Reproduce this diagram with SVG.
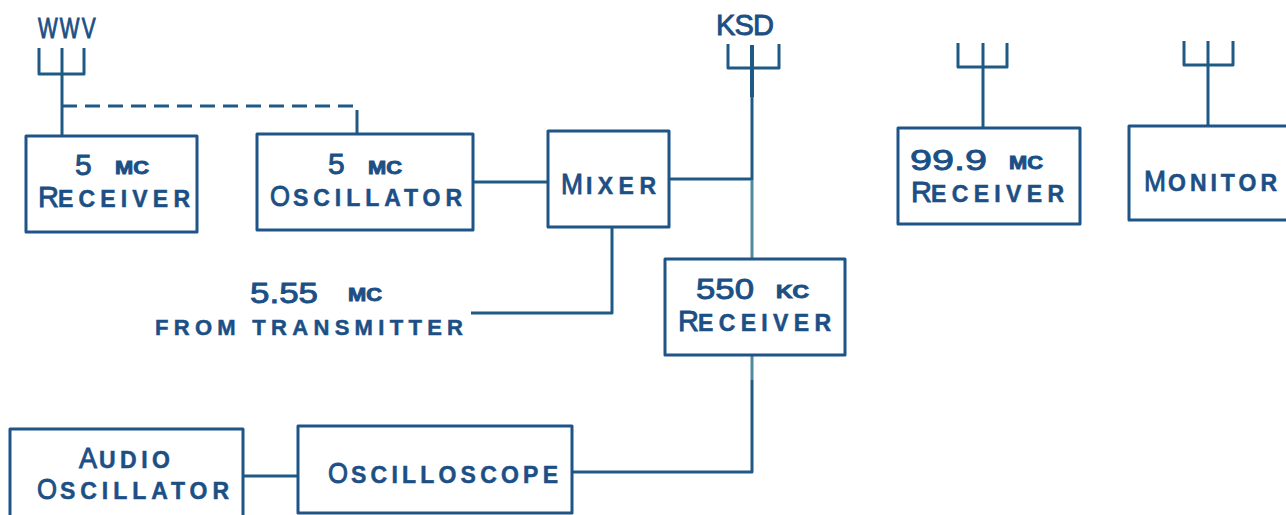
<svg xmlns="http://www.w3.org/2000/svg" width="1286" height="515" viewBox="0 0 1286 515">
<style>
.b{fill:none;stroke:#1f5488;stroke-width:3;stroke-linejoin:round}
.l{fill:none;stroke:#1f5a85;stroke-width:3;stroke-linejoin:round}
.p{stroke:#4f8a9f}
.h{stroke-width:4}
.d{stroke-dasharray:15 8}
text{font-family:"Liberation Sans",Arial,sans-serif;fill:#1c4f85;stroke:#1c4f85;stroke-width:.9}
.n{font-size:30px}
.s{font-size:18px;font-weight:700}
.t{font-size:29px}
.m{font-size:23px;font-weight:700;stroke-width:.5}
.f{font-size:22px;font-weight:700;stroke-width:.5}
</style>
<rect width="1286" height="515" fill="#fff"/>
<g id="connectors">
<path class="l" d="M39 48V74H84V48M62 48V136"/>
<path class="l d" d="M62 106H357V122"/>
<path class="l" d="M357 122V134"/>
<path class="l" d="M473 182H548"/>
<path class="l" d="M669 179H752"/>
<path class="l" d="M728 44V68H779V44M752 180V97"/>
<path class="l h" d="M752 45V97"/>
<path class="l p" d="M752 180V259"/>
<path class="l" d="M612 227V313H471"/>
<path class="l p" d="M752 355V380"/>
<path class="l" d="M752 380V472H572"/>
<path class="l" d="M243 476H298"/>
<path class="l" d="M958 43V67H1007V43M983 43V128"/>
<path class="l" d="M1184 41V65H1233V41M1208 41V126"/>
</g>
<g id="label-wwv"><text transform="translate(38 38) scale(.72 1)" class="t" letter-spacing="3">WWV</text></g>
<g id="label-ksd"><text x="716" y="35" class="t" textLength="58">KSD</text></g>
<g id="receiver-5mc"><rect class="b" x="26" y="136" width="171" height="96"/>
<text x="75" y="175" class="n">5</text><text x="115" y="174" class="s" textLength="34" lengthAdjust="spacingAndGlyphs">MC</text>
<text x="38" y="207" class="t">R</text><text x="58" y="207" class="m" textLength="132">ECEIVER</text></g>
<g id="oscillator-5mc"><rect class="b" x="257" y="134" width="216" height="96"/>
<text x="328" y="174" class="n">5</text><text x="368" y="174" class="s" textLength="34" lengthAdjust="spacingAndGlyphs">MC</text>
<text x="270" y="206" class="t" textLength="20" lengthAdjust="spacingAndGlyphs">O</text><text x="293" y="206" class="m" textLength="169">SCILLATOR</text></g>
<g id="mixer"><rect class="b" x="548" y="131" width="121" height="96"/>
<text x="561" y="194" class="t" textLength="22" lengthAdjust="spacingAndGlyphs">M</text><text x="586" y="194" class="m" textLength="70">IXER</text></g>
<g id="from-transmitter"><text x="250" y="303" class="n" textLength="68" lengthAdjust="spacingAndGlyphs">5.55</text><text x="348" y="301" class="s" textLength="34" lengthAdjust="spacingAndGlyphs">MC</text>
<text x="155" y="335" class="f" textLength="308">FROM TRANSMITTER</text></g>
<g id="receiver-550kc"><rect class="b" x="665" y="259" width="180" height="96"/>
<text x="696" y="299" class="n" textLength="58" lengthAdjust="spacingAndGlyphs">550</text><text x="776" y="298" class="s" textLength="33" lengthAdjust="spacingAndGlyphs">KC</text>
<text x="678" y="331" class="t">R</text><text x="698" y="331" class="m" textLength="133">ECEIVER</text></g>
<g id="receiver-99-9mc"><rect class="b" x="898" y="128" width="182" height="96"/>
<text x="910" y="170" class="n" textLength="77" lengthAdjust="spacingAndGlyphs">99.9</text><text x="1009" y="169" class="s" textLength="34" lengthAdjust="spacingAndGlyphs">MC</text>
<text x="911" y="202" class="t">R</text><text x="931" y="202" class="m" textLength="133">ECEIVER</text></g>
<g id="monitor"><rect class="b" x="1129" y="126" width="165" height="94"/>
<text x="1144" y="191" class="t" textLength="22" lengthAdjust="spacingAndGlyphs">M</text><text x="1168" y="191" class="m" textLength="109">ONITOR</text></g>
<g id="audio-oscillator"><rect class="b" x="10" y="429" width="233" height="100"/>
<text x="79" y="468" class="t" textLength="18" lengthAdjust="spacingAndGlyphs">A</text><text x="99" y="468" class="m" textLength="71">UDIO</text>
<text x="37" y="499" class="t" textLength="20" lengthAdjust="spacingAndGlyphs">O</text><text x="60" y="499" class="m" textLength="169">SCILLATOR</text></g>
<g id="oscilloscope"><rect class="b" x="298" y="426" width="274" height="87"/>
<text x="328" y="483" class="t" textLength="20" lengthAdjust="spacingAndGlyphs">O</text><text x="351" y="483" class="m" textLength="207">SCILLOSCOPE</text></g>
</svg>
